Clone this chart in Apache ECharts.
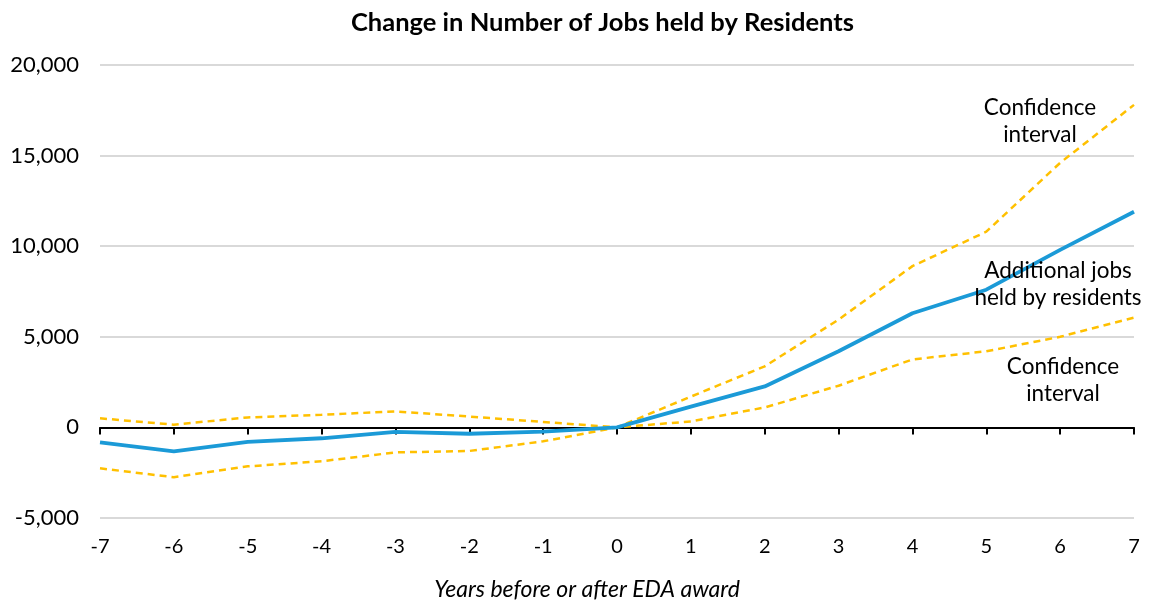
<!DOCTYPE html>
<html>
<head>
<meta charset="utf-8">
<script src="https://cdn.jsdelivr.net/npm/echarts@6/dist/echarts.min.js"></script>
<style>
  html, body { margin: 0; padding: 0; background: #ffffff; }
  #chart { width: 1149px; height: 604px; }
</style>
</head>
<body>
<div id="chart"></div>
<script>
// Years relative to the EDA award
const years = ['-7', '-6', '-5', '-4', '-3', '-2', '-1', '0', '1', '2', '3', '4', '5', '6', '7'];

// Estimated additional jobs held by residents
const jobs = [-830, -1320, -800, -600, -250, -350, -230, 0, 1150, 2260, 4200, 6300, 7600, 9800, 11900];

// Upper and lower bounds of the confidence interval
const upperCI = [500, 150, 550, 700, 880, 600, 300, 0, 1700, 3370, 5950, 8900, 10800, 14600, 17800];
const lowerCI = [-2260, -2750, -2150, -1870, -1380, -1300, -770, 0, 330, 1100, 2300, 3750, 4200, 5000, 6060];

const FONT = 'Lato';
const BLUE = '#1b9ad7';
const GOLD = '#ffc000';

const chart = echarts.init(document.getElementById('chart'), null, { renderer: 'canvas' });

const note = (text, x, y) => ({
  type: 'text', x: x, y: y, z: 10,
  style: {
    text: text, align: 'center', verticalAlign: 'middle',
    fontFamily: FONT, fontSize: 22.5, lineHeight: 27, fill: '#000'
  }
});

chart.setOption({
  animation: false,
  backgroundColor: '#ffffff',
  title: {
    text: 'Change in Number of Jobs held by Residents',
    left: 346,
    top: 5,
    textStyle: { fontFamily: FONT, fontWeight: 'bold', fontSize: 25.5, color: '#000' }
  },
  grid: { left: 100, right: 15, top: 65, bottom: 86, containLabel: false },
  xAxis: [
    {
      // line through zero with a tick at each year
      type: 'category',
      data: years,
      boundaryGap: false,
      axisLine: { onZero: true, lineStyle: { color: '#000', width: 2 } },
      axisTick: { show: true, length: 7, lineStyle: { color: '#000', width: 2 } },
      axisLabel: { show: false },
      splitLine: { show: false }
    },
    {
      // year labels along the bottom
      type: 'category',
      data: years,
      boundaryGap: false,
      position: 'bottom',
      axisLine: { show: false, onZero: false },
      axisTick: { show: false },
      axisLabel: { show: true, fontFamily: FONT, fontSize: 20, color: '#000', margin: 19 },
      splitLine: { show: false }
    }
  ],
  yAxis: {
    type: 'value',
    min: -5000,
    max: 20000,
    interval: 5000,
    axisLine: { show: false },
    axisTick: { show: false },
    axisLabel: {
      fontFamily: FONT, fontSize: 22, color: '#000', margin: 21,
      formatter: v => v.toLocaleString('en-US')
    },
    splitLine: { lineStyle: { color: '#d9d9d9', width: 2 } }
  },
  series: [
    {
      name: 'Upper confidence interval',
      type: 'line',
      data: upperCI,
      symbol: 'none',
      lineStyle: { color: GOLD, width: 2.5, type: [7, 5] },
      z: 2
    },
    {
      name: 'Lower confidence interval',
      type: 'line',
      data: lowerCI,
      symbol: 'none',
      lineStyle: { color: GOLD, width: 2.5, type: [7, 5] },
      z: 2
    },
    {
      name: 'Additional jobs held by residents',
      type: 'line',
      data: jobs,
      symbol: 'none',
      lineStyle: { color: BLUE, width: 3.8 },
      z: 3
    }
  ],
  graphic: [
    note('Confidence\ninterval', 1040, 121),
    note('Additional jobs\nheld by residents', 1058, 284),
    note('Confidence\ninterval', 1063, 380),
    {
      type: 'text', x: 587, y: 590, z: 10,
      style: {
        text: 'Years before or after EDA award', align: 'center', verticalAlign: 'middle',
        fontFamily: FONT, fontStyle: 'italic', fontSize: 23, fill: '#000'
      }
    }
  ]
});
</script>
</body>
</html>
